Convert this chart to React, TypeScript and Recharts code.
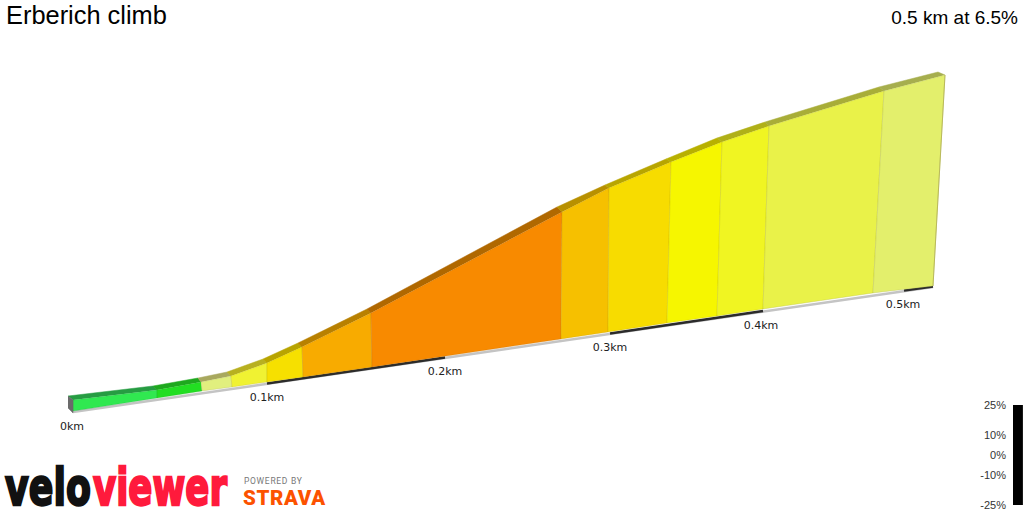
import React from "react";
import { ComposedChart, Scatter, Bar, XAxis, YAxis } from "recharts";

// climb profile: projected position and height at each gradient change
const baseX = [73, 157, 202, 232, 267, 303, 372, 561, 608, 667, 717, 763, 873, 933];
const baseY = [411, 398, 391, 387, 382, 377, 367, 339, 332, 323, 316, 309, 293, 286];
const faceX = [73, 157, 201, 231, 267, 302, 371, 562, 609, 671, 722, 769, 884, 945];
const faceY = [400, 390, 382, 376, 363, 347, 313, 212, 188, 162, 142, 126, 91, 75];
const ridgeX = [68, 153, 198, 227, 263, 298, 367, 557, 605, 666, 717, 765, 879, 938];
const ridgeY = [396, 386, 378, 372, 359, 343, 309, 207, 185, 159, 138, 122, 87, 72];

const faceColors = ["#30e850", "#22de22", "#e1ef7e", "#f0f232", "#f6e000", "#f8ab00", "#f88a00", "#f6c000", "#f7dc00", "#f6f600", "#f0f522", "#e9f249", "#e3ef6c"];
const ridgeColors = ["#269c42", "#1ea81e", "#a8a85e", "#b8b020", "#b8a400", "#b88000", "#b06800", "#b89000", "#b8a500", "#b8b000", "#b0b018", "#a8ad38", "#a6ae4e"];

const kmLabels = ["0km", "0.1km", "0.2km", "0.3km", "0.4km", "0.5km"];
const kmX = [72, 267, 445, 610, 761, 903];
const kmY = [426, 397, 371, 347, 325, 304];

const roadEdge = [{ x: 73, y: 412 }, { x: 933, y: 287 }];
const darkStretches = [
  [{ x: 267, y: 383.5 }, { x: 445, y: 357.5 }],
  [{ x: 610, y: 333.5 }, { x: 763, y: 311 }],
  [{ x: 904, y: 290.5 }, { x: 933, y: 286.5 }],
];
const startCap = [{ x: 68, y: 396 }, { x: 73, y: 400 }, { x: 73, y: 413 }, { x: 68, y: 408 }];
const endEdge = [{ x: 945, y: 75 }, { x: 933, y: 286 }];

const gradientTicks = [25, 10, 0, -10, -25];
const gradientBar = [{ name: "gradient", range: [-25, 25] }];

const noDot = () => null;

const polygon = (i: number, top: "face" | "ridge") =>
  top === "face"
    ? [
        { x: baseX[i], y: baseY[i] },
        { x: faceX[i], y: faceY[i] },
        { x: faceX[i + 1], y: faceY[i + 1] },
        { x: baseX[i + 1], y: baseY[i + 1] },
        { x: baseX[i], y: baseY[i] },
      ]
    : [
        { x: faceX[i], y: faceY[i] },
        { x: ridgeX[i], y: ridgeY[i] },
        { x: ridgeX[i + 1], y: ridgeY[i + 1] },
        { x: faceX[i + 1], y: faceY[i + 1] },
      ];

const kmData = kmLabels.map((label, i) => ({ label, x: kmX[i], y: kmY[i] }));

const KmLabel = (props: any) => (
  <text
    x={props.cx}
    y={props.cy}
    textAnchor="middle"
    dominantBaseline="central"
    fontFamily="DejaVu Sans, Verdana, sans-serif"
    fontSize={11}
    fill="#222"
  >
    {props.payload.label}
  </text>
);

function Logo() {
  return (
    <svg width={340} height={52} style={{ position: "absolute", left: 0, top: 460 }}>
      <text transform="translate(5,44.5) scale(0.7,1)" fontFamily="DejaVu Sans, sans-serif" fontWeight={700} fontSize={52} fill="#111" stroke="#111" strokeWidth={2.4}>
        velo
      </text>
      <text transform="translate(93,44.5) scale(0.684,1)" fontFamily="DejaVu Sans, sans-serif" fontWeight={700} fontSize={52} fill="#ff1a3c" stroke="#ff1a3c" strokeWidth={2.4}>
        viewer
      </text>
      <text x={244} y={24} fontFamily="Roboto, sans-serif" fontSize={8.5} letterSpacing={0.7} fill="#777">
        POWERED BY
      </text>
      <text x={243} y={45} fontFamily="Roboto, sans-serif" fontWeight={900} fontSize={20.5} letterSpacing={0.6} fill="#fc5200">
        STRAVA
      </text>
    </svg>
  );
}

export default function App() {
  return (
    <div style={{ position: "absolute", left: 0, top: 0, width: 1024, height: 512, background: "#fff", overflow: "hidden" }}>
      <ComposedChart width={1024} height={512} margin={{ top: 0, right: 0, bottom: 0, left: 0 }}>
        <XAxis type="number" dataKey="x" domain={[0, 1024]} hide />
        <YAxis type="number" dataKey="y" domain={[0, 512]} reversed hide />

        <Scatter data={roadEdge} shape={noDot} isAnimationActive={false} line={{ stroke: "#c4c4c4", strokeWidth: 2.5 }} />
        {darkStretches.map((d, i) => (
          <Scatter key={i} data={d} shape={noDot} isAnimationActive={false} line={{ stroke: "#2b2b2b", strokeWidth: 2.5 }} />
        ))}

        {faceColors.map((c, i) => (
          <Scatter key={"r" + i} data={polygon(i, "ridge")} shape={noDot} isAnimationActive={false} line={{ fill: ridgeColors[i], stroke: ridgeColors[i], strokeWidth: 0.5 }} />
        ))}
        {faceColors.map((c, i) => (
          <Scatter key={"f" + i} data={polygon(i, "face")} shape={noDot} isAnimationActive={false} line={{ fill: c, stroke: ridgeColors[i], strokeWidth: 0.6, strokeOpacity: 0.45 }} />
        ))}

        <Scatter data={startCap} shape={noDot} isAnimationActive={false} line={{ fill: "#6a6a6a", stroke: "#6a6a6a", strokeWidth: 0.5 }} />
        <Scatter data={endEdge} shape={noDot} isAnimationActive={false} line={{ stroke: "#b9b95a", strokeWidth: 1 }} />

        <Scatter data={kmData} shape={KmLabel} isAnimationActive={false} />
      </ComposedChart>

      <div style={{ position: "absolute", left: 6, top: 1, fontFamily: "Liberation Sans, Arial, sans-serif", fontSize: 25.4, lineHeight: "28px", color: "#000" }}>
        Erberich climb
      </div>
      <div style={{ position: "absolute", right: 6, top: 7, fontFamily: "Liberation Sans, Arial, sans-serif", fontSize: 19, lineHeight: "22px", color: "#000" }}>
        0.5 km at 6.5%
      </div>

      <div style={{ position: "absolute", left: 960, top: 390 }}>
        <ComposedChart width={64} height={122} data={gradientBar} margin={{ top: 15, right: 1, bottom: 7, left: 0 }} barCategoryGap={0}>
          <XAxis dataKey="name" hide />
          <YAxis
            type="number"
            domain={[-25, 25]}
            ticks={gradientTicks}
            interval={0}
            width={52}
            axisLine={false}
            tickLine={false}
            tickMargin={0}
            tick={{ fontFamily: "Liberation Sans, Arial, sans-serif", fontSize: 11, fill: "#333" }}
            tickFormatter={(v: number) => v + "%"}
          />
          <Bar dataKey="range" fill="#000" barSize={11} isAnimationActive={false} />
        </ComposedChart>
      </div>

      <Logo />
    </div>
  );
}
